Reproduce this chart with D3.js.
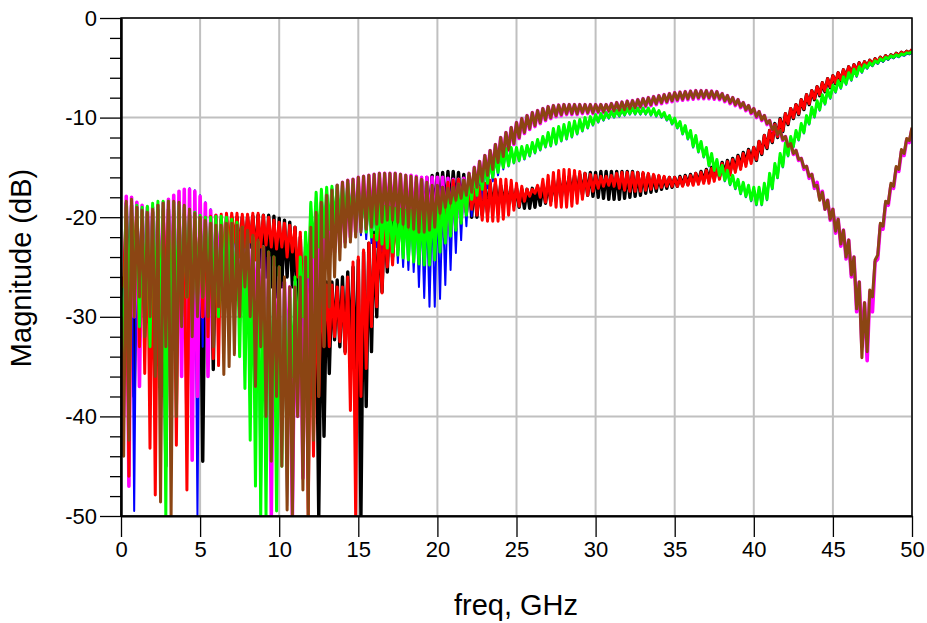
<!DOCTYPE html>
<html><head><meta charset="utf-8">
<script src="https://cdn.jsdelivr.net/npm/d3@7"></script>
<style>html,body{margin:0;padding:0;background:#fff;}svg{display:block;}</style>
</head><body>
<svg id="chart" width="927" height="623"></svg>
<script>
// ---- data ----
// frequency sweep 0..50 GHz; "Hi" = local maxima at f = i/3 GHz, "Lo" = local minima at f = (i+0.5)/3 GHz
const sweepStart = 0, sweepStop = 50, peakSpacing = 1/3;
const xTickValues = [0,5,10,15,20,25,30,35,40,45,50];
const yTickValues = [0,-10,-20,-30,-40,-50];
const yMinorValues = [-2,-4,-6,-8,-12,-14,-16,-18,-22,-24,-26,-28,-32,-34,-36,-38,-42,-44,-46,-48];
const seriesNames = ["black","blue","magenta","red","green","brown"];

const blackHi = [
-27,-18.6,-18.8, -19,-19.2,-19.4, -19.5,-19.3,-19.2, -19.2,-19.4,-19.6, -19.6,-19.8,-20,
-20.2,-20.3,-20.5, -20.3,-20.2,-20.1, -20,-20,-20, -20,-19.9,-19.8, -19.8,-19.8,-19.9,
-20.1,-20.3,-20.5, -21,-22,-23.5, -25,-26,-26.5, -26.5,-26.5,-26.3, -26,-25.5,-25,
-24.3,-23.5,-22.6, -21.5,-20.5,-19.5, -18.8,-18.2,-17.6, -17.2,-16.8,-16.5, -16.2,-16,-15.8,
-15.6,-15.5,-15.4, -15.4,-15.5,-15.7, -16,-16.3,-16.5, -16.6,-16.6,-16.7, -16.8,-16.9,-17,
-17.1,-17.2,-17.2, -17.1,-17,-16.8, -16.6,-16.3,-16.1, -16,-15.9,-15.8, -15.7,-15.6,-15.5,
-15.5,-15.4,-15.4, -15.4,-15.4,-15.4, -15.4,-15.4,-15.5, -15.6,-15.7,-15.8, -15.9,-16,-16,
-16,-15.9,-15.8, -15.7,-15.6,-15.4, -15.2,-15,-14.8, -14.5,-14.3,-14.1, -13.8,-13.5,-13.2,
-13,-12.4,-11.8, -11.3,-10.6,-10.1, -9.6,-9.1,-8.7, -8.2,-7.7,-7.3, -6.9,-6.5,-6.1,
-5.8,-5.5,-5.2, -4.9,-4.7,-4.5, -4.4,-4.25,-4.1, -3.95,-3.8,-3.7, -3.55,-3.45,-3.35,
-3.2];
const blackLo = [
-30,-28,-38, -30,-28,-31, -29,-33,-45, -30,-32,-29, -30,-33,-31,
-44.5,-31,-35.3, -27,-26,-25, -24,-24,-23.5, -23,-24,-25, -26,-27,-28,
-27,-26,-27, -29,-31,-33, -38,-50,-42, -35.7,-32.3,-33, -33.5,-34,-37,
-50,-39,-33.5, -30,-27.5,-25.5, -24,-23,-22, -21.5,-21,-20.5, -20.3,-20,-19.8,
-19.5,-19.3,-19, -18.8,-19,-19.5, -20,-20,-19.8, -19.5,-19.2,-19, -18.8,-18.7,-18.8,
-19,-19.1,-19.1, -19,-18.8,-18.6, -18.4,-18.2,-18, -17.8,-17.7,-17.7, -17.7,-17.8,-17.9,
-18,-18.1,-18.2, -18.2,-18.2,-18.1, -18,-17.9,-17.8, -17.6,-17.5,-17.4, -17.2,-17.1,-17,
-16.9,-16.8,-16.7, -16.6,-16.5,-16.4, -16.3,-16.1,-15.9, -15.7,-15.5,-15.2, -14.9,-14.6,-14.3,
-14.3,-13.7,-13.1, -12.5,-12,-11.4, -10.7,-10.1,-9.7, -9.2,-8.7,-8.2, -7.8,-7.4,-7,
-6.6,-6.3,-6, -5.7,-5.4,-5.2, -4.9,-4.7,-4.5, -4.3,-4.1,-3.95, -3.8,-3.65,-3.55];

const redHi = [
-26,-19,-19.5, -19.3,-19.5,-19.6, -19.4,-19.3,-19.4, -19.5,-19.6,-19.6, -19.7,-19.8,-19.9,
-20,-20,-19.9, -19.8,-19.7,-19.6, -19.6,-19.6,-19.7, -19.7,-19.6,-19.6, -19.8,-20,-20.3,
-20.5,-20.6,-20.8, -21,-21.5,-23, -27,-27,-27, -26.8,-26.8,-27, -27,-26,-24.5,
-24,-23.3,-22.6, -21.8,-21,-20.5, -20.3,-20.2,-20, -19.8,-19.6,-19.3, -19,-18.6,-18,
-17.5,-17,-16.5, -16.3,-16.2,-16.3, -16.8,-17.2,-17, -16.6,-16.3,-16.2, -16.2,-16.2,-16.3,
-16.6,-16.9,-17.2, -17.2,-16.8,-16.2, -15.8,-15.5,-15.3, -15.2,-15.2,-15.3, -15.4,-15.6,-15.7,
-15.8,-15.9,-15.9, -15.8,-15.6,-15.5, -15.5,-15.5,-15.5, -15.5,-15.6,-15.7, -15.8,-15.9,-16,
-16,-16,-15.9, -15.8,-15.6,-15.5, -15.3,-15.1,-14.9, -14.6,-14.4,-14.2, -13.9,-13.6,-13.3,
-13,-12.4,-11.8, -11.3,-10.7,-10.2, -9.6,-9.1,-8.7, -8.2,-7.7,-7.3, -6.9,-6.5,-6.1,
-5.8,-5.5,-5.2, -4.9,-4.7,-4.5, -4.4,-4.25,-4.1, -3.95,-3.8,-3.7, -3.55,-3.45,-3.35,
-3.15];
const redLo = [
-27,-46,-24, -33,-35.7,-43.2, -47.9,-30,-28, -30,-42.9,-30, -47.4,-29,-28,
-30,-32,-34.2, -34.9,-25,-23, -22.5,-24,-23, -22.5,-24.3,-23, -22.8,-23,-23.2,
-23,-24,-23.5, -26,-29,-50, -44,-38,-33, -33,-32,-32.5, -33.7,-39.4,-50,
-38,-35.2,-31, -29,-27.6,-25, -24.8,-23.3,-22.5, -22.3,-22,-21.8, -21.5,-21.2,-21,
-20.6,-20.3,-20, -19.8,-19.7,-19.5, -19.2,-19.8,-20.3, -20.4,-20.4,-20.4, -20.2,-19.8,-19.3,
-18.9,-18.4,-17.9, -17.6,-18,-18.5, -18.8,-19,-19, -19,-18.9,-18.6, -18.2,-17.8,-17.4,
-17.1,-16.9,-16.8, -16.9,-17.1,-17.3, -17.4,-17.4,-17.4, -17.3,-17.2,-17.1, -17,-16.9,-16.9,
-16.9,-16.9,-16.8, -16.8,-16.7,-16.6, -16.6,-16.4,-16.2, -16,-15.8,-15.5, -15.2,-14.9,-14.6,
-14.2,-13.6,-13, -12.4,-11.9,-11.3, -10.6,-10,-9.6, -9.1,-8.6,-8.1, -7.7,-7.3,-6.9,
-6.5,-6.2,-5.9, -5.6,-5.3,-5.1, -4.8,-4.6,-4.4, -4.2,-4.05,-3.9, -3.75,-3.6,-3.5];

const greenHi = [
-27,-18.8,-18.6, -18.8,-19,-18.9, -18.6,-18.4,-18.4, -18.4,-18.5,-18.8, -19,-19.2,-19.5,
-19.8,-20,-20, -19.9,-19.9,-20, -20.2,-20.5,-21, -21.5,-22,-22.5, -23,-23.5,-24,
-25,-27,-28, -26,-24,-21.5, -18.5,-17.5,-17.2, -17,-16.9,-16.8, -16.7,-16.6,-16.7,
-17,-17.4,-17.8, -18.2,-18.6,-18.9, -19,-19.1,-19.2, -19.3,-19.3,-19.3, -19.2,-19,-18.7,
-18.3,-17.9,-17.5, -17.1,-16.7,-16.3, -15.9,-15.5,-15.1, -14.7,-14.3,-13.9, -13.4,-13.1,-13,
-13,-12.9,-12.8, -12.5,-12.2,-11.9, -11.5,-11.1,-10.9, -10.7,-10.5,-10.35, -10.2,-10,-9.9,
-9.7,-9.6,-9.5, -9.4,-9.3,-9.2, -9.1,-9.05,-9.05, -9.05,-9.05,-9.1, -9.3,-9.5,-9.8,
-10.05,-10.4,-10.8, -11.3,-11.8,-12.4, -13,-13.6,-14.2, -14.8,-15.3,-15.8, -16.2,-16.5,-16.8,
-17,-17,-16.6, -15.6,-14.6,-13.6, -12.55,-11.9,-11.3, -10.6,-9.8,-8.95, -8.3,-7.7,-7.2,
-6.75,-6.3,-5.9, -5.5,-5.15,-4.9, -4.7,-4.5,-4.3, -4.1,-3.95,-3.8, -3.7,-3.6,-3.5,
-3.4];
const greenLo = [
-35,-30,-28, -31,-29,-33, -30,-32,-50, -36,-30,-29, -28,-30,-29,
-28,-27,-29, -30,-28,-27, -29,-34,-37.2, -42.4,-47,-50, -50,-42,-49.5,
-45,-40,-36, -33,-30,-26, -24,-23,-22, -21.2,-20.6,-20.2, -20,-20.2,-20.6,
-21,-21.5,-22, -22.3,-22.7,-23.1, -23.5,-23.8,-24.1, -24.3,-24.5,-24.7, -24.8,-24.8,-24.3,
-23.5,-22.6,-21.9, -21.3,-20.6,-19.8, -18.2,-17.8,-17.2, -16.6,-16,-15.5, -15,-14.8,-14.5,
-14.3,-14.1,-13.8, -13.5,-13.2,-12.9, -12.8,-12.6,-12.3, -12.1,-11.9,-11.6, -11.3,-11,-10.7,
-10.4,-10.2,-10, -9.9,-9.8,-9.7, -9.6,-9.6,-9.6, -9.6,-9.7,-9.8, -9.9,-10.2,-10.6,
-11,-11.6,-12.1, -12.9,-13.4,-13.9, -14.8,-15.3,-15.8, -16.3,-16.7,-17.1, -17.6,-17.9,-18.3,
-18.7,-18.7,-18.2, -17.1,-16,-14.9, -13.8,-12.9,-12.2, -11.5,-10.6,-9.9, -9.2,-8.6,-8,
-7.4,-7,-6.6, -6.2,-5.8,-5.4, -5,-4.75,-4.5, -4.3,-4.1,-3.95, -3.85,-3.7,-3.55];

const blueHi = [
-27,-18.5,-18.7, -19,-19.2,-19, -18.8,-18.6,-18.4, -18.2,-17.8,-17.5, -17.2,-17.1,-17.3,
-17.8,-18.5,-19.2, -19.8,-20,-20, -20.2,-20.5,-21, -21.5,-22,-22.5, -23,-23.5,-24,
-25,-27,-28, -26,-24,-21.5, -18.6,-17.6,-17.3, -17.1,-17,-16.9, -16.8,-16.7,-16.8,
-17.1,-17.5,-17.9, -18.3,-18.7,-19, -19.1,-19.2,-19.3, -19.4,-19.4,-19.4, -19.3,-19.1,-18.8,
-18.4,-18,-17.6, -17.2,-16.8,-16.4, -16,-15.6,-15.2, -14.8,-14.4,-14, -13.5,-13.2,-13.1,
-13.1,-13,-12.9, -12.6,-12.3,-12, -11.6,-11.2,-11, -10.8,-10.6,-10.4, -10.3,-10.1,-10,
-9.8,-9.7,-9.6, -9.5,-9.4,-9.3, -9.2,-9.15,-9.15, -9.15,-9.15,-9.2, -9.4,-9.6,-9.9,
-10.15,-10.5,-10.9, -11.4,-11.9,-12.5, -13.1,-13.7,-14.3, -14.9,-15.4,-15.9, -16.3,-16.6,-16.9,
-17.1,-17.1,-16.7, -15.7,-14.7,-13.7, -12.65,-12,-11.4, -10.7,-9.9,-9.05, -8.4,-7.8,-7.3,
-6.85,-6.4,-6, -5.6,-5.25,-5, -4.8,-4.6,-4.4, -4.2,-4.05,-3.9, -3.8,-3.7,-3.6,
-3.5];
const blueLo = [
-32,-30,-49.5, -31,-29,-30, -32,-30,-29, -31,-30,-32, -34,-42.9,-50,
-33,-30,-29, -28,-29,-30, -30,-32,-36, -40,-45,-50, -46,-40,-44,
-42.7,-49,-40, -35,-31,-27, -25,-23.5,-22.5, -21.8,-21.2,-21, -21,-21.2,-21.5,
-21.8,-22.2,-22.6, -23,-23.4,-23.8, -24.2,-24.6,-25, -25.3,-25.5,-27, -28.1,-29,-29,
-28.2,-26.8,-25.3, -23.6,-22.3,-20.9, -19.9,-19.1,-18.2, -17.1,-16.4,-15.8, -15.2,-14.9,-14.6,
-14.4,-14.2,-13.9, -13.6,-13.3,-13, -12.9,-12.7,-12.4, -12.2,-12,-11.7, -11.4,-11.1,-10.8,
-10.5,-10.3,-10.1, -10,-9.9,-9.8, -9.7,-9.7,-9.7, -9.7,-9.8,-9.9, -10,-10.3,-10.7,
-11.1,-11.7,-12.2, -13,-13.5,-14, -14.9,-15.4,-15.9, -16.4,-16.8,-17.2, -17.7,-18,-18.4,
-18.8,-18.8,-18.3, -17.2,-16.1,-15, -13.9,-13,-12.3, -11.6,-10.7,-10, -9.3,-8.7,-8.1,
-7.5,-7.1,-6.7, -6.3,-5.9,-5.5, -5.1,-4.85,-4.6, -4.4,-4.2,-4.05, -3.95,-3.8,-3.65];

const magentaHi = [
-28,-17.9,-18, -18.5,-18.8,-19, -19,-18.8,-18.5, -18.2,-17.8,-17.4, -17.2,-17.2,-17.4,
-17.9,-18.6,-19.3, -19.8,-20.2,-20.5, -20.8,-21,-21.2, -21.5,-22,-22.5, -23,-24,-25,
-26,-26.5,-27, -26.5,-25,-23, -21,-19.5,-18.5, -17.8,-17.2,-16.8, -16.5,-16.3,-16.2,
-16,-15.9,-15.8, -15.7,-15.6,-15.6, -15.6,-15.6,-15.7, -15.8,-15.8,-15.9, -16,-16,-16,
-16,-16,-16.1, -16.2,-16.2,-16.1, -15.6,-15,-14.4, -13.8,-13.3,-12.7, -12,-11.5,-11,
-10.5,-10.1,-9.8, -9.5,-9.3,-9.1, -8.9,-8.8,-8.75, -8.7,-8.7,-8.7, -8.7,-8.7,-8.7,
-8.7,-8.7,-8.7, -8.6,-8.5,-8.45, -8.35,-8.3,-8.2, -8.1,-8,-7.9, -7.8,-7.7,-7.6,
-7.5,-7.45,-7.4, -7.35,-7.3,-7.3, -7.3,-7.35,-7.4, -7.6,-7.8,-8, -8.2,-8.5,-8.8,
-9.1,-9.4,-9.8, -10.3,-10.8,-11.3, -11.9,-12.6,-13.3, -14.1,-14.9,-15.7, -16.5,-17.4,-18.3,
-19.2,-20.2,-21.3, -22.3,-24,-26.5, -28.6,-27.5,-24.5, -20.8,-18.6,-16.8, -15.1,-13.4,-12.2,
-11.1];
const magentaLo = [
-40,-47,-30, -37,-30,-28, -29,-31,-30, -32,-34,-36, -40,-44.4,-38,
-30,-36,-29, -27,-28,-27, -28,-29,-30, -30,-32,-33, -38,-50,-36,
-41.4,-35,-50, -40,-46.2,-40, -33,-28,-25, -24,-23.5,-23, -22.5,-22,-21.5,
-21.2,-21,-20.8, -20.5,-20.3,-20.1, -20.2,-20.4,-20.6, -20.9,-21.1,-21.3, -21.5,-21.8,-22,
-22.2,-22,-21.5, -21,-20.3,-19.5, -18.5,-17.3,-16.6, -15.9,-15.3,-14.6, -14,-13.3,-12.7,
-12.1,-11.6,-11.2, -10.9,-10.6,-10.3, -10.1,-9.9,-9.8, -9.7,-9.7,-9.7, -9.6,-9.6,-9.6,
-9.5,-9.5,-9.4, -9.4,-9.35,-9.3, -9.2,-9.1,-9, -8.9,-8.8,-8.7, -8.6,-8.5,-8.4,
-8.3,-8.25,-8.2, -8.15,-8.1,-8.1, -8.1,-8.15,-8.2, -8.4,-8.6,-8.8, -9,-9.3,-9.6,
-10,-10.3,-10.7, -11.3,-11.8,-12.3, -13,-13.7,-14.3, -15.2,-16.1,-17.1, -18.1,-19.2,-20.3,
-21.6,-22.9,-24.2, -26,-29.5,-33, -34.4,-29.5,-24.2, -21.2,-18.8,-17.1, -15.4,-13.8,-12.5];

const brownHi = [
-30,-18.4,-18.2, -19,-19.3,-19.5, -19.2,-18.8,-18.6, -18.4,-18.4,-18.5, -18.8,-19.2,-19.6,
-20,-20.3,-20.6, -20.8,-20.8,-20.6, -20.6,-20.8,-21, -21.3,-21.8,-22.3, -23,-23.5,-24,
-25,-26,-27, -27,-26,-24, -21,-19.5,-18.5, -17.8,-17.3,-16.8, -16.5,-16.3,-16.2,
-16,-15.9,-15.8, -15.7,-15.6,-15.6, -15.6,-15.6,-15.7, -15.8,-15.9,-16, -16.2,-16.5,-16.8,
-16.8,-17,-17.1, -17,-16.7,-16.3, -15.6,-15,-14.4, -13.8,-13.3,-12.7, -12,-11.5,-11,
-10.5,-10.1,-9.8, -9.5,-9.3,-9.1, -8.9,-8.8,-8.75, -8.7,-8.7,-8.7, -8.7,-8.7,-8.7,
-8.7,-8.7,-8.7, -8.6,-8.5,-8.45, -8.35,-8.3,-8.2, -8.1,-8,-7.9, -7.8,-7.7,-7.6,
-7.5,-7.45,-7.4, -7.35,-7.3,-7.3, -7.3,-7.35,-7.4, -7.6,-7.8,-8, -8.2,-8.5,-8.8,
-9.1,-9.4,-9.8, -10.3,-10.8,-11.3, -11.9,-12.6,-13.3, -14.1,-14.9,-15.7, -16.8,-17.5,-18.3,
-19.2,-20.2,-21.3, -22.3,-24,-26.5, -28.6,-27.3,-24.3, -20.6,-18.4,-16.6, -14.9,-13.2,-12.1,
-11];
const brownLo = [
-44,-42.4,-30, -28,-32,-30, -36,-48.6,-33, -50,-40,-31, -28,-32,-30,
-28,-30,-33, -29,-35.8,-35, -33.8,-30,-27, -30,-37,-33, -40,-44.5,-38,
-45,-49.4,-50, -40,-47.4,-50, -42.4,-38,-33, -29,-26,-24.3, -23,-22.5,-22,
-21.5,-21.2,-21, -20.7,-20.5,-20.3, -20.3,-20.5,-20.7, -21,-21.2,-21.5, -21.5,-21.3,-21,
-19.6,-19,-18.6, -18.3,-18.1,-17.8, -17.5,-17,-16.4, -15.8,-15.2,-14.5, -13.9,-13.2,-12.6,
-12,-11.5,-11.1, -10.8,-10.5,-10.2, -10,-9.8,-9.7, -9.6,-9.6,-9.6, -9.5,-9.5,-9.5,
-9.4,-9.4,-9.3, -9.3,-9.25,-9.2, -9.1,-9,-8.9, -8.8,-8.7,-8.6, -8.5,-8.4,-8.3,
-8.2,-8.15,-8.1, -8.05,-8,-8, -8,-8.05,-8.1, -8.3,-8.5,-8.7, -8.9,-9.2,-9.5,
-9.9,-10.2,-10.6, -11.2,-11.7,-12.2, -12.9,-13.6,-14.2, -15,-15.9,-16.9, -18.3,-19.2,-20.2,
-21.4,-22.7,-24, -25.8,-29.2,-34.1, -33.5,-28,-23.8, -20.9,-18.6,-16.9, -15.2,-13.6,-12.3];

const seriesHi = {black:blackHi, blue:blueHi, magenta:magentaHi, red:redHi, green:greenHi, brown:brownHi};
const seriesLo = {black:blackLo, blue:blueLo, magenta:magentaLo, red:redLo, green:greenLo, brown:brownLo};

// ---- styles ----
const colors = {black:"#000000", blue:"#0000ff", magenta:"#ff00ff", red:"#ff0000", green:"#00ff00", brown:"#8b4513"};
const widths = {black:3.4, blue:2, magenta:3.6, red:3, green:3, brown:3};

const svg = d3.select("#chart");
const x = d3.scaleLinear().domain([sweepStart, sweepStop]).range([121, 912]);
const y = d3.scaleLinear().domain([-50, 0]).range([516, 18]);
const font = "'Liberation Sans', Arial, sans-serif";

svg.append("defs").append("clipPath").attr("id","plotclip")
  .append("rect").attr("x",121).attr("y",18).attr("width",791).attr("height",498);

// grid
const grid = svg.append("g");
grid.selectAll(".vg").data(xTickValues).join("line")
  .attr("x1",d=>x(d)).attr("x2",d=>x(d)).attr("y1",y(0)).attr("y2",y(-50))
  .attr("stroke","#c0c0c0").attr("stroke-width",2);
grid.selectAll(".hg").data(yTickValues).join("line")
  .attr("x1",x(0)).attr("x2",x(50)).attr("y1",d=>y(d)).attr("y2",d=>y(d))
  .attr("stroke","#c0c0c0").attr("stroke-width",2);

// traces
function points(name){
  const hi = seriesHi[name], lo = seriesLo[name], pts = [];
  for (let i = 0; i < hi.length; i++) {
    pts.push([sweepStart + i*peakSpacing, hi[i]]);
    if (i < lo.length) pts.push([sweepStart + (i+0.5)*peakSpacing, lo[i]]);
  }
  return pts;
}
const line = d3.line().x(d=>x(d[0])).y(d=>y(d[1]));
const traces = svg.append("g").attr("clip-path","url(#plotclip)");
seriesNames.forEach(name=>{
  traces.append("path").datum(points(name))
    .attr("d", line).attr("fill","none")
    .attr("stroke", colors[name]).attr("stroke-width", widths[name])
    .attr("stroke-linejoin","round");
});

// frame
svg.append("rect").attr("x",121).attr("y",18).attr("width",791).attr("height",498)
  .attr("fill","none").attr("stroke","#000").attr("stroke-width",1.5);

// axes
const fmt = d => String(d);
const yAxis = d3.axisLeft(y).tickValues(yTickValues).tickSize(21).tickSizeOuter(0).tickPadding(3).tickFormat(fmt);
const gy = svg.append("g").attr("transform","translate(121,0)").call(yAxis);
const yMinor = d3.axisLeft(y).tickValues(yMinorValues).tickSize(11).tickSizeOuter(0).tickFormat("");
const gym = svg.append("g").attr("transform","translate(121,0)").call(yMinor);
const xAxis = d3.axisBottom(x).tickValues(xTickValues).tickSize(21).tickSizeOuter(0).tickPadding(4).tickFormat(fmt);
const gx = svg.append("g").attr("transform","translate(0,516)").call(xAxis);
[gy,gym,gx].forEach(g=>{
  g.select(".domain").attr("stroke","#000").attr("stroke-width",2);
  g.selectAll(".tick line").attr("stroke","#000").attr("stroke-width",1.3);
  g.selectAll("text").attr("font-family",font).attr("font-size",22).attr("fill","#000");
});

// titles
svg.append("text").attr("transform","translate(31,268) rotate(-90)")
  .attr("text-anchor","middle").attr("font-family",font).attr("font-size",29)
  .text("Magnitude (dB)");
svg.append("text").attr("x",516).attr("y",615)
  .attr("text-anchor","middle").attr("font-family",font).attr("font-size",29)
  .text("freq, GHz");
</script>
</body></html>
